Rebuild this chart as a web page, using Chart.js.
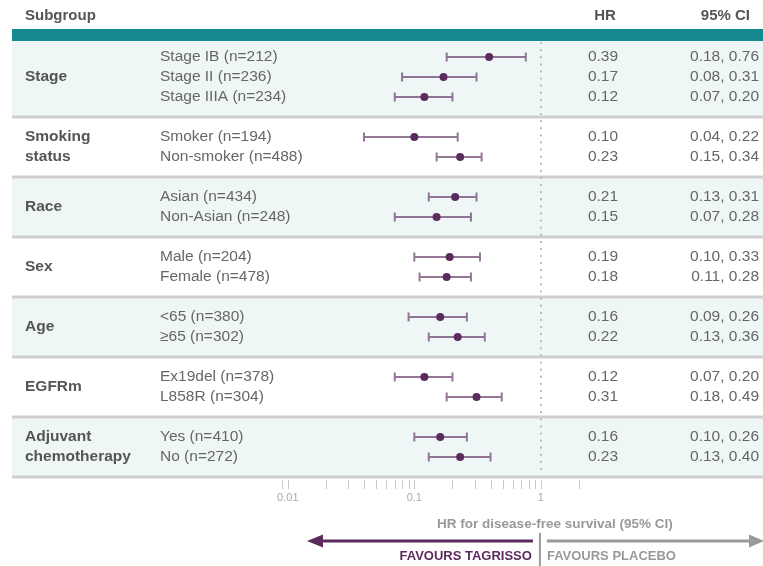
<!DOCTYPE html>
<html>
<head>
<meta charset="utf-8">
<script src="https://cdn.jsdelivr.net/npm/chart.js@4.4.1/dist/chart.umd.min.js"></script>
<style>
html,body{margin:0;padding:0;background:#fff;}
canvas{display:block;}
</style>
</head>
<body>
<canvas id="c" width="763" height="566"></canvas>
<script>
// ---- data ----
const groupLabels = [['Stage'], ['Smoking', 'status'], ['Race'], ['Sex'], ['Age'], ['EGFRm'], ['Adjuvant', 'chemotherapy']];
const groupSizes = [3, 2, 2, 2, 2, 2, 2];
const subgroups = ['Stage IB (n=212)', 'Stage II (n=236)', 'Stage IIIA (n=234)',
  'Smoker (n=194)', 'Non-smoker (n=488)',
  'Asian (n=434)', 'Non-Asian (n=248)',
  'Male (n=204)', 'Female (n=478)',
  '<65 (n=380)', '\u226565 (n=302)',
  'Ex19del (n=378)', 'L858R (n=304)',
  'Yes (n=410)', 'No (n=272)'];
const hr     = [0.39, 0.17, 0.12, 0.10, 0.23, 0.21, 0.15, 0.19, 0.18, 0.16, 0.22, 0.12, 0.31, 0.16, 0.23];
const ciLow  = [0.18, 0.08, 0.07, 0.04, 0.15, 0.13, 0.07, 0.10, 0.11, 0.09, 0.13, 0.07, 0.18, 0.10, 0.13];
const ciHigh = [0.76, 0.31, 0.20, 0.22, 0.34, 0.31, 0.28, 0.33, 0.28, 0.26, 0.36, 0.20, 0.49, 0.26, 0.40];
const tickValues = [0.009, 0.01, 0.02, 0.03, 0.04, 0.05, 0.06, 0.07, 0.08, 0.09,
  0.1, 0.2, 0.3, 0.4, 0.5, 0.6, 0.7, 0.8, 0.9, 1, 2];
const tickLabels = {0.01: '0.01', 0.1: '0.1', 1: '1'};
const headers = ['Subgroup', 'HR', '95% CI'];
const axisTitle = 'HR for disease-free survival (95% CI)';
const favoursLeft = 'FAVOURS TAGRISSO';
const favoursRight = 'FAVOURS PLACEBO';

// ---- row slots (structure: one blank slot between groups) ----
const rowSlot = [];
const sepSlot = [];
let s = 0;
groupSizes.forEach(n => { for (let i = 0; i < n; i++) rowSlot.push(s++); sepSlot.push(s); s++; });

const FONT = "'Liberation Sans', Arial, Helvetica, sans-serif";
const PURPLE = '#5b2b5d';

const forestPlugin = {
  id: 'forest',
  beforeDatasetsDraw(chart) {
    const ctx = chart.ctx, X = chart.scales.x, Y = chart.scales.y;
    const W = chart.width;
    ctx.save();
    // bands
    let top = Y.getPixelForValue(Y.min);
    sepSlot.forEach((sp, g) => {
      const bot = Y.getPixelForValue(sp);
      ctx.fillStyle = g % 2 === 0 ? '#eef6f6' : '#ffffff';
      ctx.fillRect(12, top, W - 12, bot - top);
      top = bot;
    });
    // teal header bar
    ctx.fillStyle = '#14888f';
    const tb = Y.getPixelForValue(Y.min);
    ctx.fillRect(12, tb - 12, W - 12, 12);
    // separators
    ctx.strokeStyle = '#cfcfcf';
    ctx.lineWidth = 3;
    sepSlot.forEach(sp => {
      const y = Math.round(Y.getPixelForValue(sp));
      ctx.beginPath(); ctx.moveTo(12, y); ctx.lineTo(W, y); ctx.stroke();
    });
    // reference dotted line at HR = 1
    const x1 = Math.round(X.getPixelForValue(1));
    ctx.strokeStyle = '#b8b8b8';
    ctx.lineWidth = 2.2;
    ctx.lineCap = 'round';
    ctx.setLineDash([0.1, 7]);
    ctx.beginPath();
    ctx.moveTo(x1, tb + 2);
    ctx.lineTo(x1, Y.getPixelForValue(sepSlot[sepSlot.length - 1]) - 3);
    ctx.stroke();
    ctx.setLineDash([]);
    ctx.lineCap = 'butt';
    // CI whiskers
    ctx.strokeStyle = 'rgba(112,72,114,0.75)';
    ctx.lineWidth = 2;
    hr.forEach((v, i) => {
      const y = Math.round(Y.getPixelForValue(rowSlot[i]));
      const a = X.getPixelForValue(ciLow[i]), b = X.getPixelForValue(ciHigh[i]);
      ctx.beginPath();
      ctx.moveTo(a, y); ctx.lineTo(b, y);
      ctx.moveTo(a, y - 4.5); ctx.lineTo(a, y + 4.5);
      ctx.moveTo(b, y - 4.5); ctx.lineTo(b, y + 4.5);
      ctx.stroke();
    });
    ctx.restore();
  },
  afterDatasetsDraw(chart) {
    const ctx = chart.ctx, X = chart.scales.x, Y = chart.scales.y;
    const W = chart.width, H = chart.height;
    ctx.save();
    ctx.textBaseline = 'middle';
    // headers
    ctx.fillStyle = '#555';
    ctx.font = 'bold 15px ' + FONT;
    ctx.textAlign = 'left'; ctx.fillText(headers[0], 25, 16);
    ctx.textAlign = 'center'; ctx.fillText(headers[1], 605, 16);
    ctx.textAlign = 'right'; ctx.fillText(headers[2], 750, 16);
    // group labels
    let r = 0;
    groupSizes.forEach((n, g) => {
      const lines = groupLabels[g];
      ctx.font = 'bold 15.5px ' + FONT;
      ctx.fillStyle = '#555';
      ctx.textAlign = 'left';
      if (lines.length === 1) {
        const ys = (Y.getPixelForValue(rowSlot[r]) + Y.getPixelForValue(rowSlot[r + n - 1])) / 2;
        ctx.fillText(lines[0], 25, ys);
      } else {
        lines.forEach((ln, k) => ctx.fillText(ln, 25, Y.getPixelForValue(rowSlot[r + k])));
      }
      r += n;
    });
    // row texts
    ctx.font = '15.5px ' + FONT;
    ctx.fillStyle = '#666';
    subgroups.forEach((lab, i) => {
      const y = Y.getPixelForValue(rowSlot[i]);
      ctx.textAlign = 'left'; ctx.fillText(lab, 160, y);
      ctx.textAlign = 'center'; ctx.fillText(hr[i].toFixed(2), 603, y);
      ctx.textAlign = 'right'; ctx.fillText(ciLow[i].toFixed(2) + ', ' + ciHigh[i].toFixed(2), 759, y);
    });
    // axis ticks
    const axisY = Y.getPixelForValue(sepSlot[sepSlot.length - 1]) + 2;
    ctx.strokeStyle = '#c8c8c8';
    ctx.lineWidth = 1;
    tickValues.forEach(v => {
      const x = Math.round(X.getPixelForValue(v)) + 0.5;
      ctx.beginPath(); ctx.moveTo(x, axisY + 1); ctx.lineTo(x, axisY + 10); ctx.stroke();
    });
    ctx.fillStyle = '#aaa';
    ctx.font = '11px ' + FONT;
    ctx.textAlign = 'center';
    tickValues.forEach(v => {
      if (tickLabels[v]) ctx.fillText(tickLabels[v], X.getPixelForValue(v), axisY + 19);
    });
    // axis title
    const x1 = X.getPixelForValue(1);
    ctx.fillStyle = '#999';
    ctx.font = 'bold 13.5px ' + FONT;
    ctx.fillText(axisTitle, x1 + 14, 524);
    // arrows
    const ay = 541;
    ctx.strokeStyle = PURPLE; ctx.fillStyle = PURPLE; ctx.lineWidth = 3;
    ctx.beginPath(); ctx.moveTo(x1 - 8, ay); ctx.lineTo(320, ay); ctx.stroke();
    ctx.beginPath(); ctx.moveTo(307, ay); ctx.lineTo(323, ay - 6.5); ctx.lineTo(323, ay + 6.5); ctx.closePath(); ctx.fill();
    ctx.strokeStyle = '#9a9a9a'; ctx.fillStyle = '#9a9a9a';
    ctx.beginPath(); ctx.moveTo(x1 + 6, ay); ctx.lineTo(W - 12, ay); ctx.stroke();
    ctx.beginPath(); ctx.moveTo(W + 1, ay); ctx.lineTo(W - 14, ay - 6.5); ctx.lineTo(W - 14, ay + 6.5); ctx.closePath(); ctx.fill();
    // divider
    ctx.lineWidth = 2;
    ctx.strokeStyle = '#9a9a9a';
    ctx.beginPath(); ctx.moveTo(x1 - 1, 533); ctx.lineTo(x1 - 1, H); ctx.stroke();
    // favours labels
    ctx.font = 'bold 13px ' + FONT;
    ctx.textAlign = 'right'; ctx.fillStyle = PURPLE;
    ctx.fillText(favoursLeft, x1 - 9, 556);
    ctx.textAlign = 'left'; ctx.fillStyle = '#999';
    ctx.fillText(favoursRight, x1 + 6, 556);
    ctx.restore();
  }
};

new Chart(document.getElementById('c'), {
  type: 'scatter',
  data: {
    datasets: [{
      data: hr.map((v, i) => ({x: v, y: rowSlot[i]})),
      pointRadius: 4,
      pointHoverRadius: 4,
      pointBackgroundColor: PURPLE,
      pointBorderColor: PURPLE,
      pointBorderWidth: 0,
      showLine: false,
      clip: false
    }]
  },
  options: {
    responsive: false,
    animation: false,
    events: [],
    layout: {padding: {left: 282, right: 184, top: 41, bottom: 89}},
    plugins: {legend: {display: false}, tooltip: {enabled: false}},
    scales: {
      x: {type: 'logarithmic', min: 0.009, max: 2, display: false},
      y: {type: 'linear', min: -0.8, max: 21, reverse: true, display: false}
    }
  },
  plugins: [forestPlugin]
});
</script>
</body>
</html>
